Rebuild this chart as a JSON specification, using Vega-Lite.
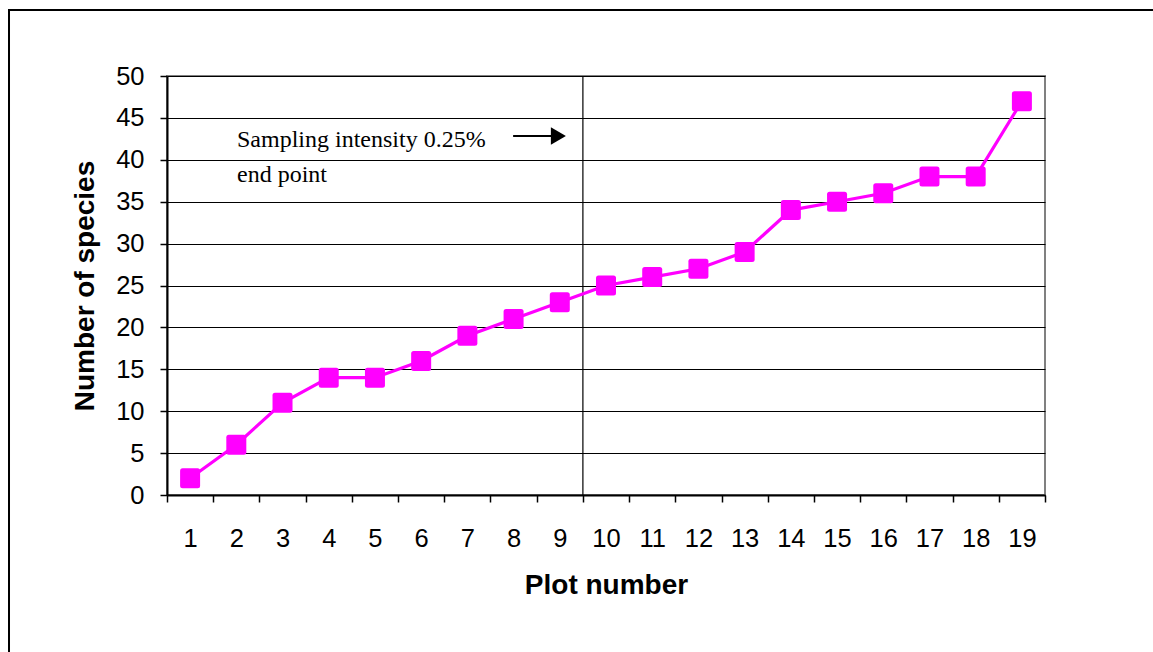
{
  "$schema": "https://vega.github.io/schema/vega-lite/v6.json",
  "width": 878,
  "height": 419,
  "autosize": {"type": "none"},
  "padding": {"left": 167, "top": 76, "right": 108, "bottom": 157},
  "background": "white",
  "config": {
    "view": {"stroke": "#808080", "strokeWidth": 2},
    "axis": {"labelFont": "Liberation Sans", "titleFont": "Liberation Sans", "labelColor": "black", "titleColor": "black"}
  },
  "layer": [
    {
      "data": {"values": [{}]},
      "mark": {"type": "rule", "color": "black", "strokeWidth": 1.2},
      "encoding": {
        "x": {"datum": 9.5, "type": "quantitative"},
        "y": {"datum": 0, "type": "quantitative"},
        "y2": {"datum": 50}
      }
    },
    {
      "data": {"values": [
        {"plot": 1, "species": 2},
        {"plot": 2, "species": 6},
        {"plot": 3, "species": 11},
        {"plot": 4, "species": 14},
        {"plot": 5, "species": 14},
        {"plot": 6, "species": 16},
        {"plot": 7, "species": 19},
        {"plot": 8, "species": 21},
        {"plot": 9, "species": 23},
        {"plot": 10, "species": 25},
        {"plot": 11, "species": 26},
        {"plot": 12, "species": 27},
        {"plot": 13, "species": 29},
        {"plot": 14, "species": 34},
        {"plot": 15, "species": 35},
        {"plot": 16, "species": 36},
        {"plot": 17, "species": 38},
        {"plot": 18, "species": 38},
        {"plot": 19, "species": 47}
      ]},
      "encoding": {
        "x": {
          "field": "plot", "type": "quantitative",
          "scale": {"domain": [0.5, 19.5], "nice": false, "zero": false},
          "axis": {
            "values": [0.5,1.5,2.5,3.5,4.5,5.5,6.5,7.5,8.5,9.5,10.5,11.5,12.5,13.5,14.5,15.5,16.5,17.5,18.5,19.5],
            "labelExpr": "datum.value < 19 ? '' + (datum.value + 0.5) : ''",
            "labelOffset": 23.1,
            "labelFlush": false,
            "labelOverlap": false,
            "labelFontSize": 25.5,
            "labelPadding": 24,
            "tickSize": 7,
            "tickColor": "black",
            "tickWidth": 1.5,
            "domainColor": "black",
            "domainWidth": 2,
            "grid": false,
            "title": "Plot number",
            "titleFontSize": 28,
            "titleFontWeight": "bold",
            "titlePadding": 20
          }
        },
        "y": {
          "field": "species", "type": "quantitative",
          "scale": {"domain": [0, 50], "nice": false},
          "axis": {
            "values": [0,5,10,15,20,25,30,35,40,45,50],
            "labelFontSize": 25.5,
            "labelPadding": 16,
            "labelFlush": false,
            "labelOverlap": false,
            "tickSize": 7,
            "tickColor": "black",
            "tickWidth": 1.5,
            "domainColor": "black",
            "domainWidth": 2,
            "grid": true,
            "gridColor": "black",
            "gridWidth": 1.2,
            "gridOpacity": 1,
            "title": "Number of species",
            "titleFontSize": 28,
            "titleFontWeight": "bold",
            "titlePadding": 16
          }
        }
      },
      "layer": [
        {"mark": {"type": "line", "color": "#FF00FF", "strokeWidth": 3.2}},
        {
          "mark": {"type": "point", "filled": true, "opacity": 1, "color": "#FF00FF", "size": 400,
            "shape": "M -0.75 -1 L 0.75 -1 Q 1 -1 1 -0.75 L 1 0.75 Q 1 1 0.75 1 L -0.75 1 Q -1 1 -1 0.75 L -1 -0.75 Q -1 -1 -0.75 -1 Z"}
        }
      ]
    },
    {
      "data": {"values": [{}]},
      "mark": {"type": "text", "font": "Liberation Serif", "fontSize": 24, "align": "left", "baseline": "alphabetic", "color": "black", "text": "Sampling intensity 0.25%"},
      "encoding": {"x": {"datum": 2.015, "type": "quantitative"}, "y": {"datum": 41.49, "type": "quantitative"}}
    },
    {
      "data": {"values": [{}]},
      "mark": {"type": "text", "font": "Liberation Serif", "fontSize": 24, "align": "left", "baseline": "alphabetic", "color": "black", "text": "end point"},
      "encoding": {"x": {"datum": 2.015, "type": "quantitative"}, "y": {"datum": 37.39, "type": "quantitative"}}
    },
    {
      "data": {"values": [{}]},
      "mark": {"type": "rule", "color": "black", "strokeWidth": 2},
      "encoding": {"x": {"datum": 7.99, "type": "quantitative"}, "x2": {"datum": 8.85}, "y": {"datum": 42.84, "type": "quantitative"}}
    },
    {
      "data": {"values": [{}]},
      "mark": {"type": "point", "filled": true, "opacity": 1, "color": "black", "shape": "triangle-right", "size": 300},
      "encoding": {"x": {"datum": 8.97, "type": "quantitative"}, "y": {"datum": 42.84, "type": "quantitative"}}
    },
    {
      "data": {"values": [{}]},
      "mark": {"type": "rect", "fill": null, "stroke": "black", "strokeWidth": 2},
      "encoding": {"x": {"datum": -2.919, "type": "quantitative"}, "x2": {"datum": 40}, "y": {"datum": 57.88, "type": "quantitative"}, "y2": {"datum": -40}}
    }
  ]
}
